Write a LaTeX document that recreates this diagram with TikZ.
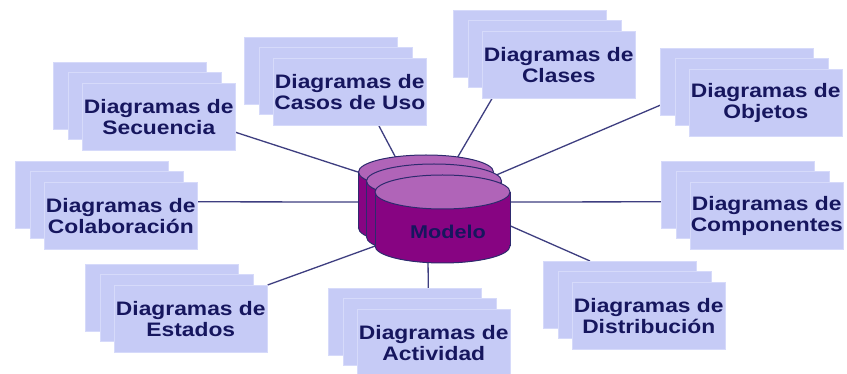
\documentclass[tikz,border=0pt]{standalone}
\usepackage{fontspec}
\newfontfamily\boxfont[FakeStretch=1.17]{Liberation Sans}
\usetikzlibrary{backgrounds}
\definecolor{boxfill}{HTML}{C6CBF6}
\definecolor{boxedge}{HTML}{D6DAFA}
\definecolor{boxtext}{HTML}{16165E}
\definecolor{linecol}{HTML}{3E3E80}
\definecolor{cyltop}{HTML}{B064B8}
\definecolor{cylside}{HTML}{870482}
\definecolor{cylline}{HTML}{2E2A6E}
\tikzset{
  card/.style={fill=boxfill, draw=boxedge, line width=0.6pt, minimum width=153pt,
    minimum height=67pt, inner sep=0pt, anchor=north west},
  cardtext/.style={text=boxtext, align=center,
    font=\boxfont\bfseries\fontsize{19.5}{20.5}\selectfont},
  link/.style={draw=linecol, line width=1.3pt},
  cylstroke/.style={draw=cylline, line width=1pt},
}
\newcommand\cardstack[4]{%
  \node[card] (#1c) at (#2-29,#3-21) {};
  \node[card] (#1b) at (#2-14.5,#3-10.5) {};
  \node[card] (#1) at (#2,#3) {};
  \node[cardtext] (#1t) at (#1.center) {#4};
}
\newcommand\drawcyl[3]{%
  \fill[cylside] (#1-67.5,#2) rectangle (#1+67.5,#3);
  \fill[cylside] (#1,#3) ellipse[x radius=67.5, y radius=17];
  \begin{scope}
    \clip (#1-70,#3) rectangle (#1+70,#3+20);
    \draw[cylstroke] (#1,#3) ellipse[x radius=67.5, y radius=17];
  \end{scope}
  \draw[cylstroke] (#1-67.5,#2) -- (#1-67.5,#3) (#1+67.5,#2) -- (#1+67.5,#3);
  \filldraw[fill=cyltop, cylstroke] (#1,#2) ellipse[x radius=67.5, y radius=17];
}
\begin{document}
\begin{tikzpicture}[x=1pt, y=-1pt]
\useasboundingbox (0,0) rectangle (847,374);

\cardstack{sec}{82}{83}{Diagramas de\\Secuencia}
\cardstack{cas}{273}{58}{Diagramas de\\Casos de Uso}
\cardstack{cla}{482}{31}{Diagramas de\\Clases}
\cardstack{obj}{689}{69}{Diagramas de\\Objetos}
\cardstack{col}{44}{182}{Diagramas de\\Colaboración}
\cardstack{com}{690}{182}{Diagramas de\\Componentes}
\cardstack{est}{114}{285}{Diagramas de\\Estados}
\cardstack{act}{357}{309}{Diagramas de\\Actividad}
\cardstack{dis}{572}{282}{Diagramas de\\Distribución}

\drawcyl{426}{172}{228}
\drawcyl{434}{181}{237}
\drawcyl{442.5}{192}{246}
\node[text=boxtext, font=\boxfont\bfseries\fontsize{18.5}{20}\selectfont] (modelo) at (448,232) {Modelo};

\coordinate (c1) at (364,174);
\coordinate (c2) at (397,160);
\coordinate (c3) at (456,160);
\coordinate (c4) at (494,176);
\coordinate (c5) at (364,202);
\coordinate (c6) at (506,202);
\coordinate (c7) at (378,245);
\coordinate (c8) at (428,258);
\coordinate (c9) at (506,224);

\begin{scope}[on background layer]
  \fill[white] (0,0) rectangle (847,374);
  \draw[link] (c1) -- ([yshift=-15.5pt]sec.east);
  \draw[link] (c2) -- ([xshift=29pt]cas.south);
  \draw[link] (c3) -- ([xshift=10pt]cla.south west);
  \draw[link] (c4) -- ([yshift=-23.5pt]objc.west);
  \draw[link] (c5) -- ([yshift=14pt]col.east);
  \draw[link] (c6) -- ([yshift=-7pt]comc.west);
  \draw[link] (c7) -- (est.north east);
  \draw[link] (c8) -- ([xshift=23.5pt]actc.north);
  \draw[link] (c9) -- ([xshift=47pt]disc.north west);
\end{scope}
\end{tikzpicture}
\end{document}
